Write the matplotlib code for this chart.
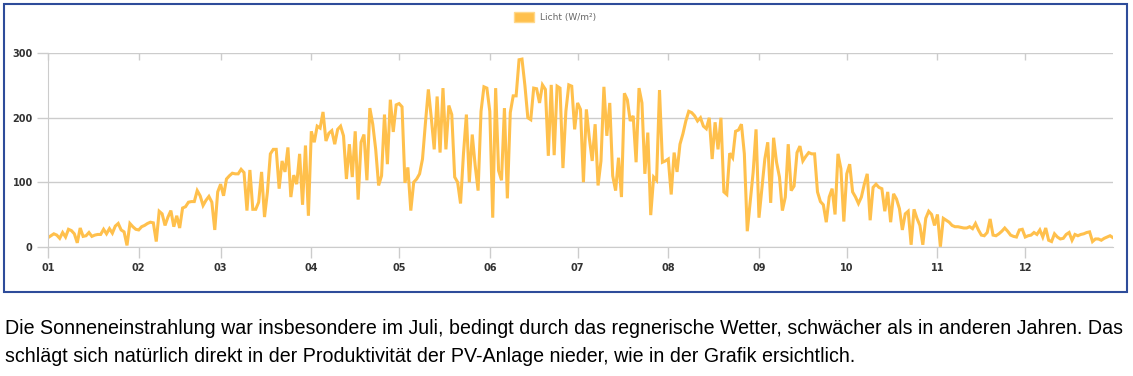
import numpy as np
import matplotlib
matplotlib.use("Agg")
import matplotlib.pyplot as plt
from matplotlib.patches import Patch, Rectangle

# Tageswerte Licht (W/m²), je Monat eine Liste
jan = [14, 17, 20, 18, 13, 22, 15, 27, 25, 20, 6, 29, 16, 17, 22, 16, 18, 19, 19, 27,
       20, 28, 21, 32, 36, 26, 23, 2, 36, 31, 27]
feb = [26, 31, 33, 36, 38, 37, 8, 55, 51, 33, 46, 56, 31, 48, 29, 60, 62, 69, 70, 70,
       87, 79, 64, 72, 78, 69, 26, 85]
mar = [97, 79, 105, 110, 114, 113, 113, 120, 115, 56, 119, 58, 58, 69, 116, 46, 85, 144, 151, 151,
       90, 133, 116, 154, 77, 111, 97, 144, 65, 157, 48]
apr = [179, 162, 187, 184, 209, 164, 176, 180, 159, 182, 187, 172, 105, 159, 108, 179, 73, 162, 174, 103,
       215, 190, 151, 95, 110, 205, 128, 228, 178, 220]
mai = [222, 217, 99, 123, 56, 100, 105, 113, 136, 192, 244, 200, 151, 233, 146, 246, 151, 219, 205, 108,
       100, 67, 144, 205, 100, 174, 126, 87, 210, 248, 246]
jun = [210, 45, 246, 118, 103, 215, 75, 208, 234, 234, 290, 291, 250, 200, 197, 246, 245, 223, 251, 244,
       141, 251, 142, 249, 246, 122, 210, 251, 249, 182]
jul = [223, 213, 100, 213, 169, 133, 190, 95, 133, 248, 172, 223, 110, 87, 138, 77, 238, 228, 195, 203,
       131, 246, 223, 113, 177, 49, 108, 103, 243, 131, 133]
aug = [136, 81, 146, 116, 159, 175, 195, 210, 208, 203, 195, 200, 187, 183, 200, 136, 193, 151, 200, 85,
       81, 145, 138, 179, 181, 190, 144, 24, 69, 115, 182]
sep = [45, 90, 136, 162, 68, 169, 131, 108, 56, 77, 159, 87, 94, 146, 156, 133, 140, 146, 144, 144,
       85, 70, 65, 38, 77, 90, 50, 144, 121, 39]
okt = [113, 128, 85, 77, 67, 77, 97, 113, 41, 92, 97, 92, 90, 55, 85, 38, 82, 74, 59, 26,
       51, 55, 3, 58, 44, 33, 3, 44, 55, 50, 33]
nov = [50, 0, 44, 41, 38, 33, 31, 31, 30, 29, 29, 31, 28, 36, 26, 18, 17, 22, 43, 18,
       17, 20, 24, 29, 24, 18, 16, 15, 26, 27]
dez = [15, 17, 18, 22, 19, 26, 15, 29, 10, 8, 20, 15, 12, 13, 19, 22, 10, 19, 17, 19,
       20, 22, 23, 8, 12, 12, 10, 13, 15, 17, 14]

months = [jan, feb, mar, apr, mai, jun, jul, aug, sep, okt, nov, dez]
month_labels = ["01", "02", "03", "04", "05", "06", "07", "08", "09", "10", "11", "12"]
y_ticks = [0, 100, 200, 300]

caption = [
    "Die Sonneneinstrahlung war insbesondere im Juli, bedingt durch das regnerische Wetter, "
    "schwächer als in anderen Jahren. Das",
    "schlägt sich natürlich direkt in der Produktivität der PV-Anlage nieder, wie in der Grafik ersichtlich.",
]

licht = np.concatenate(months)
tage = np.arange(len(licht))
month_start = np.cumsum([0] + [len(m) for m in months[:-1]])

W, H = 1133, 376
fig = plt.figure(figsize=(W / 100, H / 100), dpi=100)

# blauer Rahmen um das Diagramm
fig.patches.append(Rectangle((4 / W, 1 - 292 / H), 1123 / W, 288 / H,
                             transform=fig.transFigure, fill=False,
                             edgecolor="#2E4C9A", lw=1.5))

ax = fig.add_axes([48 / W, 1 - 246.7 / H, (1113 - 48) / W, (246.7 - 53.3) / H])
line_col = "#FFC04C"
grid_col = "#cccccc"

ax.plot(tage, licht, color=line_col, lw=2.2, solid_joinstyle="miter")

ax.set_xlim(0, len(licht) - 1)
ax.set_ylim(0, 300)
ax.set_yticks(y_ticks)
ax.set_xticks(month_start)
ax.set_xticklabels(month_labels)
ax.grid(axis="y", color=grid_col, lw=1)
ax.set_axisbelow(True)

for s in ["top", "right"]:
    ax.spines[s].set_visible(False)
ax.spines["left"].set_color(grid_col)
ax.spines["bottom"].set_color(grid_col)

ax.tick_params(axis="both", colors=grid_col, length=8, width=1,
               labelcolor="#333333", labelsize=7)
ax.tick_params(axis="y", pad=3)
ax.tick_params(axis="x", pad=4)
for lab in ax.get_xticklabels() + ax.get_yticklabels():
    lab.set_fontweight("bold")
    lab.set_family("DejaVu Sans")

# kurze Striche oben an den Monatsgrenzen
ax.vlines(month_start, 1 - 7 / 193.4, 1, transform=ax.get_xaxis_transform(),
          color=grid_col, lw=1, clip_on=False)

fig.legend(handles=[Patch(facecolor=line_col, edgecolor="#FFD88A", label="Licht (W/m²)")],
           loc="center", bbox_to_anchor=(0.49, 1 - 17 / H), frameon=False,
           fontsize=6.5, labelcolor="#666666", handlelength=2.2, handleheight=1.3,
           handletextpad=0.6)

fig.text(5 / W, 1 - 328 / H, caption[0], fontsize=14.1, family="Liberation Sans",
         va="center", ha="left", color="black")
fig.text(5 / W, 1 - 357 / H, caption[1], fontsize=14.1, family="Liberation Sans",
         va="center", ha="left", color="black")

fig.savefig("out.png", dpi=100)
